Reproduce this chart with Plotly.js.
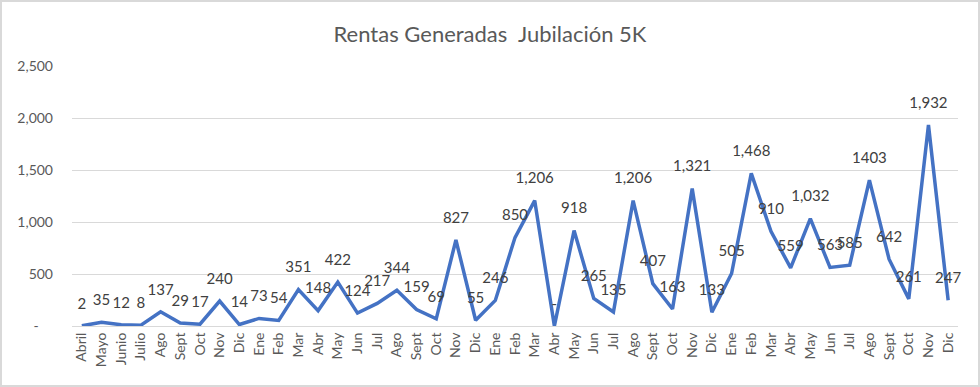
<!DOCTYPE html>
<html>
<head>
<meta charset="utf-8">
<script src="https://cdn.plot.ly/plotly-3.0.1.min.js"></script>
<style>
  html, body { margin: 0; padding: 0; background: #fff; }
  #frame { width: 980px; height: 387px; box-sizing: border-box; border: 2px solid #d9d9d9; background: #fff; }
  #chart { width: 976px; height: 383px; }
</style>
</head>
<body>
<div id="frame"><div id="chart"></div></div>
<script>
const months = ["Abril","Mayo","Junio","Julio","Ago","Sept","Oct","Nov","Dic",
  "Ene","Feb","Mar","Abr","May","Jun","Jul","Ago","Sept","Oct","Nov","Dic",
  "Ene","Feb","Mar","Abr","May","Jun","Jul","Ago","Sept","Oct","Nov","Dic",
  "Ene","Feb","Mar","Abr","May","Jun","Jul","Ago","Sept","Oct","Nov","Dic"];
const rentas = [2,35,12,8,137,29,17,240,14,
  73,54,351,148,422,124,217,344,159,69,827,55,
  246,850,1206,0,918,265,135,1206,407,163,1321,133,
  505,1468,910,559,1032,563,585,1403,642,261,1932,247];
const labels = ["2","35","12","8","137","29","17","240","14",
  "73","54","351","148","422","124","217","344","159","69","827","55",
  "246","850","1,206","-","918","265","135","1,206","407","163","1,321","133",
  "505","1,468","910","559","1,032","563","585","1403","642","261","1,932","247"];
const yTickVals = [0,500,1000,1500,2000,2500];
const yTickText = ["-\u00a0\u00a0\u00a0\u00a0","500","1,000","1,500","2,000","2,500"];

const idx = months.map((m, i) => i);
const FONT = "Lato, 'Open Sans', sans-serif";

const trace = {
  x: idx,
  y: rentas,
  text: labels,
  mode: "lines+markers+text",
  type: "scatter",
  textposition: "top center",
  textfont: { family: FONT, size: 15, color: "#404040" },
  line: { color: "#4472C4", width: 3.5 },
  marker: { size: 20, opacity: 0, color: "#4472C4" },
  cliponaxis: false,
  hoverinfo: "skip"
};

const layout = {
  width: 976,
  height: 383,
  margin: { l: 70, r: 20, t: 64, b: 59 },
  paper_bgcolor: "#fff",
  plot_bgcolor: "#fff",
  showlegend: false,
  title: {
    text: "Rentas Generadas  Jubilación 5K",
    font: { family: FONT, size: 22, color: "#595959" },
    x: 0.5, xanchor: "center", y: 0.915, yanchor: "middle"
  },
  xaxis: {
    range: [-0.5, months.length - 0.5],
    tickvals: idx,
    ticktext: months,
    tickangle: -90,
    tickfont: { family: FONT, size: 14, color: "#595959" },
    showgrid: false,
    zeroline: false,
    showline: true,
    linecolor: "#d9d9d9",
    linewidth: 1,
    ticks: "",
    fixedrange: true
  },
  yaxis: {
    range: [0, 2500],
    tickvals: yTickVals,
    ticktext: yTickText,
    tickfont: { family: FONT, size: 14, color: "#595959" },
    showgrid: true,
    gridcolor: "#d9d9d9",
    gridwidth: 1,
    zeroline: false,
    showline: false,
    ticks: "",
    ticklabelstandoff: 18,
    fixedrange: true
  }
};

Plotly.newPlot("chart", [trace], layout, { displayModeBar: false, staticPlot: true });
</script>
</body>
</html>
